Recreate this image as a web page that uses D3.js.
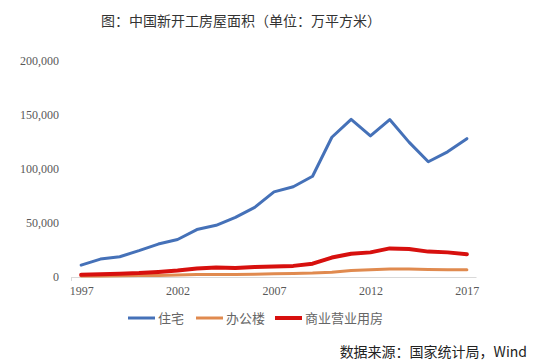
<!DOCTYPE html>
<html lang="zh">
<head>
  <meta charset="UTF-8">
  <title>中国新开工房屋面积</title>
  <script src="https://d3js.org/d3.v7.min.js"></script>
  <style>
    body { margin: 0; background: #fff; }
    svg { display: block; }
  </style>
</head>
<body>
  <div id="chart"></div>
  <script>
    // data (万平方米)
    const years = d3.range(1997, 2018);
    const residential = [11000, 16600, 18800, 24400, 30500, 34700, 43900, 47900, 55200, 64400,
                         78800, 83600, 93300, 129400, 146000, 130700, 145800, 124900, 106700, 115900, 128100];
    const office = [900, 1000, 1100, 1300, 1500, 1800, 2200, 2300, 2400, 2600,
                    3000, 3300, 3600, 4400, 6000, 6700, 7300, 7500, 7000, 6700, 6600];
    const commercial = [2000, 2500, 3000, 3600, 4700, 6000, 7800, 8900, 8300, 9300,
                        9800, 10300, 12300, 18000, 21600, 22800, 26500, 26000, 23500, 22800, 21000];
    const yTicks = [0, 50000, 100000, 150000, 200000];
    const xTickYears = [1997, 2002, 2007, 2012, 2017];

    const series = [
      { name: "住宅", values: residential, color: "#4571B8", width: 3 },
      { name: "办公楼", values: office, color: "#E08A4F", width: 3 },
      { name: "商业营业用房", values: commercial, color: "#D7100E", width: 4 }
    ];

    const W = 538, H = 361;
    const svg = d3.select("#chart").append("svg")
      .attr("width", W).attr("height", H);

    const x = d3.scalePoint().domain(years).range([71.5, 476.5]).padding(0.5);
    const y = d3.scaleLinear().domain([0, 200000]).range([277, 61]);

    // title
    svg.append("text")
      .attr("x", 241).attr("y", 26)
      .attr("text-anchor", "middle")
      .style("font-family", "'Noto Sans CJK SC', sans-serif")
      .style("font-size", "14px")
      .style("fill", "#333")
      .text("图：中国新开工房屋面积（单位：万平方米）");

    // y axis labels
    const yAxis = svg.append("g")
      .attr("transform", "translate(59,0)")
      .call(d3.axisLeft(y).tickValues(yTicks).tickSize(0).tickPadding(0)
        .tickFormat(d3.format(",")));
    yAxis.select(".domain").remove();
    yAxis.selectAll("text")
      .style("font-family", "'Liberation Serif', serif")
      .style("font-size", "12px")
      .style("fill", "#595959");

    // x axis
    const xAxis = svg.append("g")
      .attr("transform", "translate(0,277)")
      .call(d3.axisBottom(x).tickValues(xTickYears).tickSize(0).tickPadding(9));
    xAxis.select(".domain").attr("stroke", "#d9d9d9").attr("d", "M71.5,0.5V0.5H476.5");
    xAxis.selectAll("text")
      .style("font-family", "'Liberation Serif', serif")
      .style("font-size", "12px")
      .style("fill", "#595959");
    svg.append("line")
      .attr("x1", 71.5).attr("x2", 71.5).attr("y1", 277).attr("y2", 281)
      .attr("stroke", "#d9d9d9");

    // lines
    const line = d3.line()
      .x((d, i) => x(years[i]))
      .y(d => y(d));

    svg.selectAll(".series")
      .data(series)
      .enter()
      .append("path")
      .attr("class", "series")
      .attr("fill", "none")
      .attr("stroke", d => d.color)
      .attr("stroke-width", d => d.width)
      .attr("stroke-linejoin", "round")
      .attr("stroke-linecap", "round")
      .attr("d", d => line(d.values));

    // legend
    const legendX = [128, 196, 275];
    const legend = svg.append("g")
      .selectAll("g")
      .data(series)
      .enter()
      .append("g")
      .attr("transform", (d, i) => `translate(${legendX[i]},318)`);
    legend.append("line")
      .attr("x1", 0).attr("x2", 27)
      .attr("stroke", d => d.color)
      .attr("stroke-width", d => d.width);
    legend.append("text")
      .attr("x", 30).attr("dy", "0.35em")
      .style("font-family", "'Noto Sans CJK SC', sans-serif")
      .style("font-size", "13px")
      .style("fill", "#666")
      .text(d => d.name);

    // source note
    svg.append("text")
      .attr("x", 527).attr("y", 357)
      .attr("text-anchor", "end")
      .style("font-family", "'Noto Sans CJK SC', sans-serif")
      .style("font-size", "14px")
      .style("fill", "#222")
      .text("数据来源：国家统计局，Wind");
  </script>
</body>
</html>
